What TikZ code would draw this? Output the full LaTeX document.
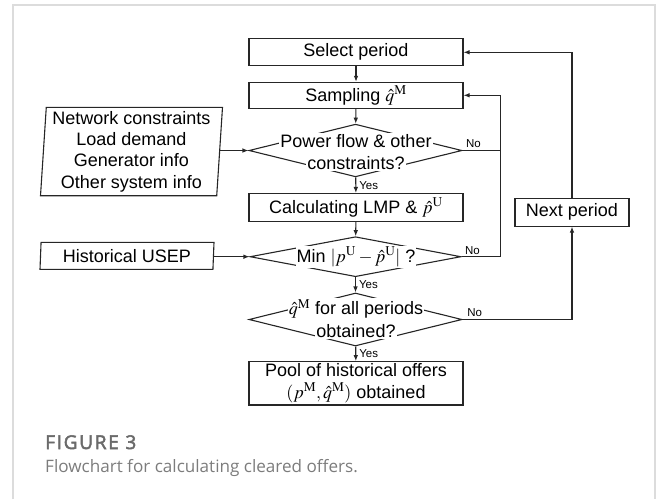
\documentclass[tikz,border=0pt]{standalone}
\usepackage{mathptmx}
\usepackage{fontspec}
\setmainfont{Liberation Sans}
\newfontfamily\capfont{Open Sans}
\newfontfamily\capfontb[FakeBold=2.6, LetterSpace=9]{Open Sans}
\usetikzlibrary{shapes.geometric,arrows.meta}
\definecolor{ink}{HTML}{262626}
\definecolor{capgray}{HTML}{6A6A6A}
\definecolor{capgray2}{HTML}{7C7C7C}
\definecolor{framegray}{HTML}{DCDCDC}
\begin{document}
\begin{tikzpicture}[x=1pt,y=-1pt,
  font=\fontsize{18}{21.3}\selectfont,
  line/.style={draw=ink, line width=1.1pt},
  arr/.style={line, -{Latex[length=6pt,width=4.6pt]}},
  proc/.style={line, rectangle, minimum width=214pt, minimum height=27pt, inner sep=2pt, align=center},
  dec/.style={line, diamond, minimum width=213pt, minimum height=53pt, inner sep=0pt},
  dtext/.style={fill=white, inner sep=1pt},
  yn/.style={font=\fontsize{11.5}{13}\selectfont, inner sep=1pt},
  inbox/.style={line, trapezium, trapezium left angle=86, trapezium right angle=94,
    trapezium stretches body=true, align=center, inner sep=1pt}]
\useasboundingbox (0,0) rectangle (656,499);
% frame
\draw[framegray, line width=1.5pt] (13,499) -- (13,5) -- (655,5) -- (655,499);
% main column
\node[proc] (sel) at (356,52.3) {Select period};
\node[proc, minimum height=26pt] (samp) at (356,95.3) {Sampling $\hat q^{\mathrm{M}}$};
\node[dec, minimum height=52.7pt] (d1) at (355.5,150.5) {};
\node[dtext] (d1a) at (356,141) {Power flow \& other};
\node[dtext] (d1b) at (356,163) {constraints?};
\node[proc, minimum height=28pt] (calc) at (356,207.5) {Calculating LMP \& $\hat p^{\mathrm{U}}$};
\node[dec, minimum height=40pt, minimum width=211pt] (d2) at (355.5,256.7) {};
\node[dtext] (d2a) at (356,256.7) {Min $|p^{\mathrm{U}}-\hat p^{\mathrm{U}}|$ ?};
\node[dec] (d3) at (355.5,319.5) {};
\node[dtext] (d3a) at (356,309) {$\hat q^{\mathrm{M}}$ for all periods};
\node[dtext] (d3b) at (356,331.5) {obtained?};
\node[proc, minimum height=43.3pt] (pool) at (356,383.3) {Pool of historical offers\\$(p^{\mathrm{M}},\hat q^{\mathrm{M}})$ obtained};
\node[proc, minimum width=114pt, minimum height=27.7pt] (next) at (572,212.2) {Next period};
% inputs
\node[inbox, minimum width=182pt, minimum height=88.4pt] (info) at (131.5,151.5) {Network constraints\\Load demand\\Generator info\\Other system info};
\node[inbox, minimum width=174pt, minimum height=27pt] (hist) at (127,255.8) {Historical USEP};
% helper columns
\coordinate (rx1) at (500.7,0);
\coordinate (rx2) at (572,0);
% connectors
\draw[arr] (sel) -- (samp);
\draw[arr] (samp) -- (d1);
\draw[arr] (d1) -- node[yn, right, xshift=2pt] {Yes} (calc);
\draw[arr] (calc) -- (d2);
\draw[arr] (d2) -- node[yn, right, xshift=2pt] {Yes} (d3);
\draw[arr] (d3) -- node[yn, right, xshift=2pt] {Yes} (pool);
\draw[arr] (info.east |- d1.west) -- (d1.west);
\draw[arr] (hist.east |- d2.west) -- (d2.west);
\draw[line] (d1.east) -- node[yn, pos=0.05, anchor=south west, yshift=1pt] {No} (d1.east -| rx1);
\draw[arr] (d2.east) -- node[yn, pos=0.05, anchor=south west, yshift=1pt] {No} (d2.east -| rx1) |- (samp.east);
\draw[arr] (d3.east) -- node[yn, pos=0.03, anchor=south west, yshift=1pt] {No} (d3.east -| rx2) -- (next.south);
\draw[arr] (next.north) |- (sel.east);
% caption
\node[anchor=base west, inner sep=0pt, text=capgray, font=\capfontb\fontsize{19}{20}\selectfont] (fig) at (45,449) {FIGURE 3};
\node[anchor=base west, inner sep=0pt, text=capgray2, font=\capfont\fontsize{17.1}{20}\selectfont] (cap) at (45,472.7) {Flowchart for calculating cleared offers.};
\end{tikzpicture}
\end{document}
